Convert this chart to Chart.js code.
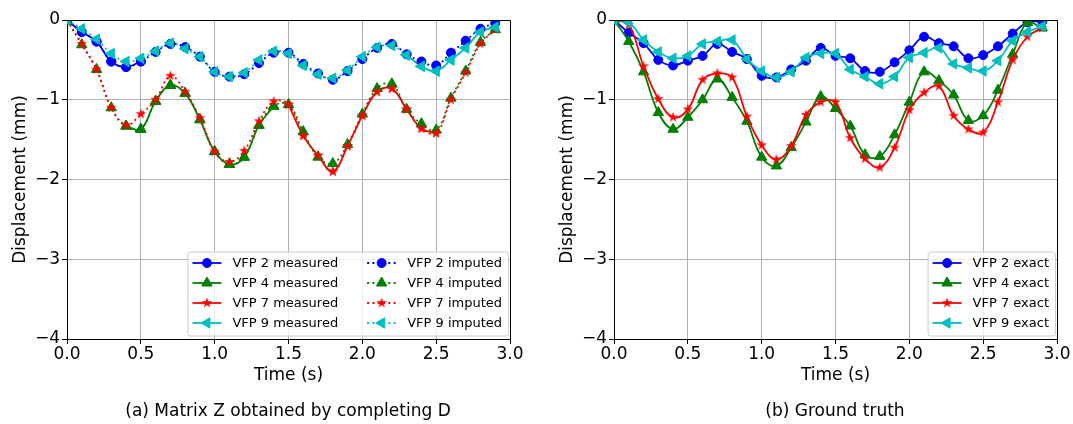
<!DOCTYPE html>
<html>
<head>
<meta charset="utf-8">
<script src="https://cdn.jsdelivr.net/npm/chart.js@4.4.1/dist/chart.umd.min.js"></script>
<style>
  html, body { margin: 0; padding: 0; background: #fff; }
  #wrap { position: relative; width: 1073px; height: 424px; overflow: hidden; }
  canvas { position: absolute; top: 0; }
  .caption { position: absolute; top: 400px; width: 400px; font: 17px "DejaVu Sans"; line-height: 20px; color: #000; text-align: center; }
</style>
</head>
<body>
<div id="wrap">
  <canvas id="left" width="547" height="424" style="left:0"></canvas>
  <canvas id="right" width="526" height="424" style="left:547px"></canvas>
  <div class="caption" style="left:88px">(a) Matrix Z obtained by completing D</div>
  <div class="caption" style="left:635px">(b) Ground truth</div>
</div>
<script>
// time samples (s)
const time = [0.0, 0.1, 0.2, 0.3, 0.4, 0.5, 0.6, 0.7, 0.8, 0.9, 1.0, 1.1, 1.2, 1.3, 1.4,
              1.5, 1.6, 1.7, 1.8, 1.9, 2.0, 2.1, 2.2, 2.3, 2.4, 2.5, 2.6, 2.7, 2.8, 2.9];

// (a) completed matrix Z, displacement in mm
const zVfp2 = [0, -0.15, -0.27, -0.52, -0.59, -0.52, -0.40, -0.30, -0.34, -0.46, -0.65, -0.71, -0.68, -0.54, -0.41,
               -0.41, -0.55, -0.67, -0.75, -0.64, -0.49, -0.35, -0.30, -0.43, -0.52, -0.57, -0.41, -0.26, -0.11, -0.04];
const zVfp4 = [0, -0.31, -0.62, -1.10, -1.33, -1.37, -1.02, -0.82, -0.92, -1.25, -1.65, -1.81, -1.72, -1.32, -1.08,
               -1.06, -1.40, -1.72, -1.80, -1.56, -1.18, -0.86, -0.80, -1.12, -1.30, -1.38, -0.98, -0.64, -0.28, -0.12];
const zVfp7 = [0, -0.30, -0.62, -1.10, -1.32, -1.18, -1.00, -0.70, -0.90, -1.23, -1.65, -1.78, -1.64, -1.27, -1.02,
               -1.06, -1.45, -1.70, -1.90, -1.58, -1.20, -0.90, -0.86, -1.12, -1.36, -1.42, -1.00, -0.66, -0.30, -0.12];
const zVfp9 = [0, -0.11, -0.24, -0.42, -0.52, -0.48, -0.39, -0.29, -0.36, -0.46, -0.65, -0.71, -0.66, -0.50, -0.39,
               -0.42, -0.57, -0.68, -0.73, -0.63, -0.46, -0.34, -0.32, -0.44, -0.58, -0.64, -0.50, -0.35, -0.15, -0.09];

// index ranges of the samples that were measured (the rest is imputed)
const measured2 = [0, 5];
const measured4 = [4, 14];
const measured7 = [15, 25];
const measured9 = [23, 29];

// (b) ground truth
const exactVfp2 = [0, -0.16, -0.29, -0.50, -0.57, -0.51, -0.45, -0.30, -0.40, -0.49, -0.70, -0.72, -0.62, -0.51, -0.35,
                   -0.45, -0.48, -0.64, -0.65, -0.53, -0.38, -0.21, -0.29, -0.33, -0.48, -0.44, -0.33, -0.17, -0.03, -0.02];
const exactVfp4 = [0, -0.27, -0.65, -1.16, -1.37, -1.22, -1.00, -0.74, -0.97, -1.27, -1.72, -1.83, -1.60, -1.28, -0.96,
                   -1.11, -1.33, -1.69, -1.71, -1.44, -1.03, -0.65, -0.76, -0.94, -1.26, -1.20, -0.88, -0.43, -0.03, -0.10];
const exactVfp7 = [0, -0.06, -0.58, -0.99, -1.22, -1.12, -0.75, -0.67, -0.72, -1.21, -1.57, -1.75, -1.58, -1.19, -1.03,
                   -1.03, -1.48, -1.74, -1.85, -1.60, -1.13, -0.91, -0.83, -1.20, -1.37, -1.41, -1.03, -0.50, -0.21, -0.10];
const exactVfp9 = [0, -0.03, -0.25, -0.40, -0.48, -0.45, -0.30, -0.27, -0.25, -0.49, -0.64, -0.72, -0.65, -0.47, -0.42,
                   -0.42, -0.62, -0.71, -0.80, -0.71, -0.47, -0.41, -0.35, -0.55, -0.60, -0.64, -0.51, -0.26, -0.15, -0.08];

Chart.defaults.font.family = '"DejaVu Sans", sans-serif';
Chart.defaults.color = '#000';

function starImage(size, color) {
  const c = document.createElement('canvas');
  c.width = c.height = size;
  const g = c.getContext('2d');
  const R = size / 2 - 0.5, r = R * 0.382;
  g.beginPath();
  for (let i = 0; i < 10; i++) {
    const a = -Math.PI / 2 + i * Math.PI / 5;
    const rad = i % 2 ? r : R;
    g.lineTo(size / 2 + rad * Math.cos(a), size / 2 + rad * Math.sin(a));
  }
  g.closePath();
  g.fillStyle = color;
  g.fill();
  return c;
}

const markers = {
  vfp2: { color: '#0000ff', pointStyle: 'circle', radius: 4.5, rotation: 0 },
  vfp4: { color: '#008000', pointStyle: 'triangle', radius: 6, rotation: 0 },
  vfp7: { color: '#ff0000', pointStyle: starImage(12, '#ff0000'), radius: 5, rotation: 0 },
  vfp9: { color: '#00bfbf', pointStyle: 'triangle', radius: 6, rotation: -90 }
};

function series(label, values, m, dashed, span) {
  return {
    label: label,
    data: time.map((t, i) => ({
      x: t,
      y: span && (i < span[0] || i > span[1]) ? null : values[i]
    })),
    borderColor: m.color,
    backgroundColor: m.color,
    pointBackgroundColor: m.color,
    pointBorderColor: m.color,
    pointBorderWidth: 1,
    pointStyle: m.pointStyle,
    pointRotation: m.rotation,
    pointRadius: m.radius,
    borderWidth: 1.8,
    borderDash: dashed ? [2, 3.3] : [],
    tension: 0.4,
    spanGaps: false
  };
}

const frame = {
  id: 'frame',
  afterDatasetsDraw(chart) {
    const { ctx, chartArea: a } = chart;
    ctx.save();
    ctx.strokeStyle = '#000';
    ctx.lineWidth = 1;
    ctx.beginPath();
    ctx.moveTo(a.left, a.top + 0.5);
    ctx.lineTo(a.right + 0.5, a.top + 0.5);
    ctx.lineTo(a.right + 0.5, a.bottom);
    ctx.stroke();
    ctx.restore();
  }
};

const boxLegend = {
  id: 'boxLegend',
  afterDraw(chart, args, opts) {
    const { ctx, chartArea: a } = chart;
    const sets = chart.data.datasets;
    ctx.save();
    ctx.font = '13px "DejaVu Sans"';
    const handle = 29, gap = 11, colGap = 29, padL = 5, padR = 6, rowH = 20;
    const colW = opts.columns.map(col => handle + gap + Math.max(...col.map(i => ctx.measureText(sets[i].label).width)));
    const W = padL + colW.reduce((s, w) => s + w, 0) + colGap * (colW.length - 1) + padR;
    const H = 84;
    const x0 = a.right - 2 - W, y0 = a.bottom - 3.5 - H;
    ctx.beginPath();
    ctx.roundRect(x0 + 0.5, y0 + 0.5, W, H, 3);
    ctx.fillStyle = 'rgba(255,255,255,0.8)';
    ctx.fill();
    ctx.strokeStyle = '#cccccc';
    ctx.lineWidth = 1;
    ctx.stroke();
    let cx = x0 + padL;
    opts.columns.forEach((col, c) => {
      col.forEach((i, r) => {
        const ds = sets[i];
        const y = y0 + 11.5 + r * rowH;
        ctx.strokeStyle = ds.borderColor;
        ctx.lineWidth = ds.borderWidth;
        ctx.setLineDash(ds.borderDash);
        ctx.beginPath();
        ctx.moveTo(cx, y);
        ctx.lineTo(cx + handle, y);
        ctx.stroke();
        ctx.setLineDash([]);
        ctx.fillStyle = ds.pointBackgroundColor;
        ctx.lineWidth = 1;
        Chart.helpers.drawPoint(ctx, {
          pointStyle: ds.pointStyle, rotation: ds.pointRotation,
          radius: ds.pointRadius, borderWidth: 1
        }, cx + handle / 2, y);
        ctx.fillStyle = '#000';
        ctx.textBaseline = 'middle';
        ctx.textAlign = 'left';
        ctx.fillText(ds.label, cx + handle + gap, y + 1);
      });
      cx += colW[c] + colGap;
    });
    ctx.restore();
  }
};

function options(padRight, columns) {
  return {
    responsive: false,
    animation: false,
    events: [],
    layout: { padding: { top: 20, left: 0, right: padRight, bottom: 37 } },
    plugins: { legend: { display: false }, tooltip: { enabled: false }, boxLegend: { columns: columns } },
    scales: {
      x: {
        type: 'linear', min: 0, max: 3,
        ticks: { stepSize: 0.5, font: { size: 17 }, padding: 0, callback: v => v.toFixed(1) },
        grid: { color: '#b0b0b0', tickColor: '#000', tickLength: 5 },
        border: { color: '#000', width: 1 },
        title: { display: true, text: 'Time (s)', font: { size: 17 }, padding: { top: 0, bottom: 1 } },
        afterFit: s => { s.height = 48; }
      },
      y: {
        min: -4, max: 0,
        ticks: { stepSize: 1, font: { size: 17 }, padding: 2, callback: v => String(v).replace('-', '\u2212') },
        grid: { color: '#b0b0b0', tickColor: '#000', tickLength: 5 },
        border: { color: '#000', width: 1 },
        title: { display: true, text: 'Displacement (mm)', font: { size: 17 }, padding: { top: 10, bottom: 0 } },
        afterFit: s => { s.width = 67; }
      }
    }
  };
}

function ordered(list) {
  list.forEach((ds, i) => { ds.order = list.length - i; });
  return list;
}

new Chart(document.getElementById('left'), {
  type: 'line',
  data: {
    datasets: ordered([
      series('VFP 2 measured', zVfp2, markers.vfp2, false, measured2),
      series('VFP 4 measured', zVfp4, markers.vfp4, false, measured4),
      series('VFP 7 measured', zVfp7, markers.vfp7, false, measured7),
      series('VFP 9 measured', zVfp9, markers.vfp9, false, measured9),
      series('VFP 2 imputed', zVfp2, markers.vfp2, true),
      series('VFP 4 imputed', zVfp4, markers.vfp4, true),
      series('VFP 7 imputed', zVfp7, markers.vfp7, true),
      series('VFP 9 imputed', zVfp9, markers.vfp9, true)
    ])
  },
  options: options(37, [[0, 1, 2, 3], [4, 5, 6, 7]]),
  plugins: [frame, boxLegend]
});

new Chart(document.getElementById('right'), {
  type: 'line',
  data: {
    datasets: ordered([
      series('VFP 2 exact', exactVfp2, markers.vfp2, false),
      series('VFP 4 exact', exactVfp4, markers.vfp4, false),
      series('VFP 7 exact', exactVfp7, markers.vfp7, false),
      series('VFP 9 exact', exactVfp9, markers.vfp9, false)
    ])
  },
  options: options(16, [[0, 1, 2, 3]]),
  plugins: [frame, boxLegend]
});
</script>
</body>
</html>
